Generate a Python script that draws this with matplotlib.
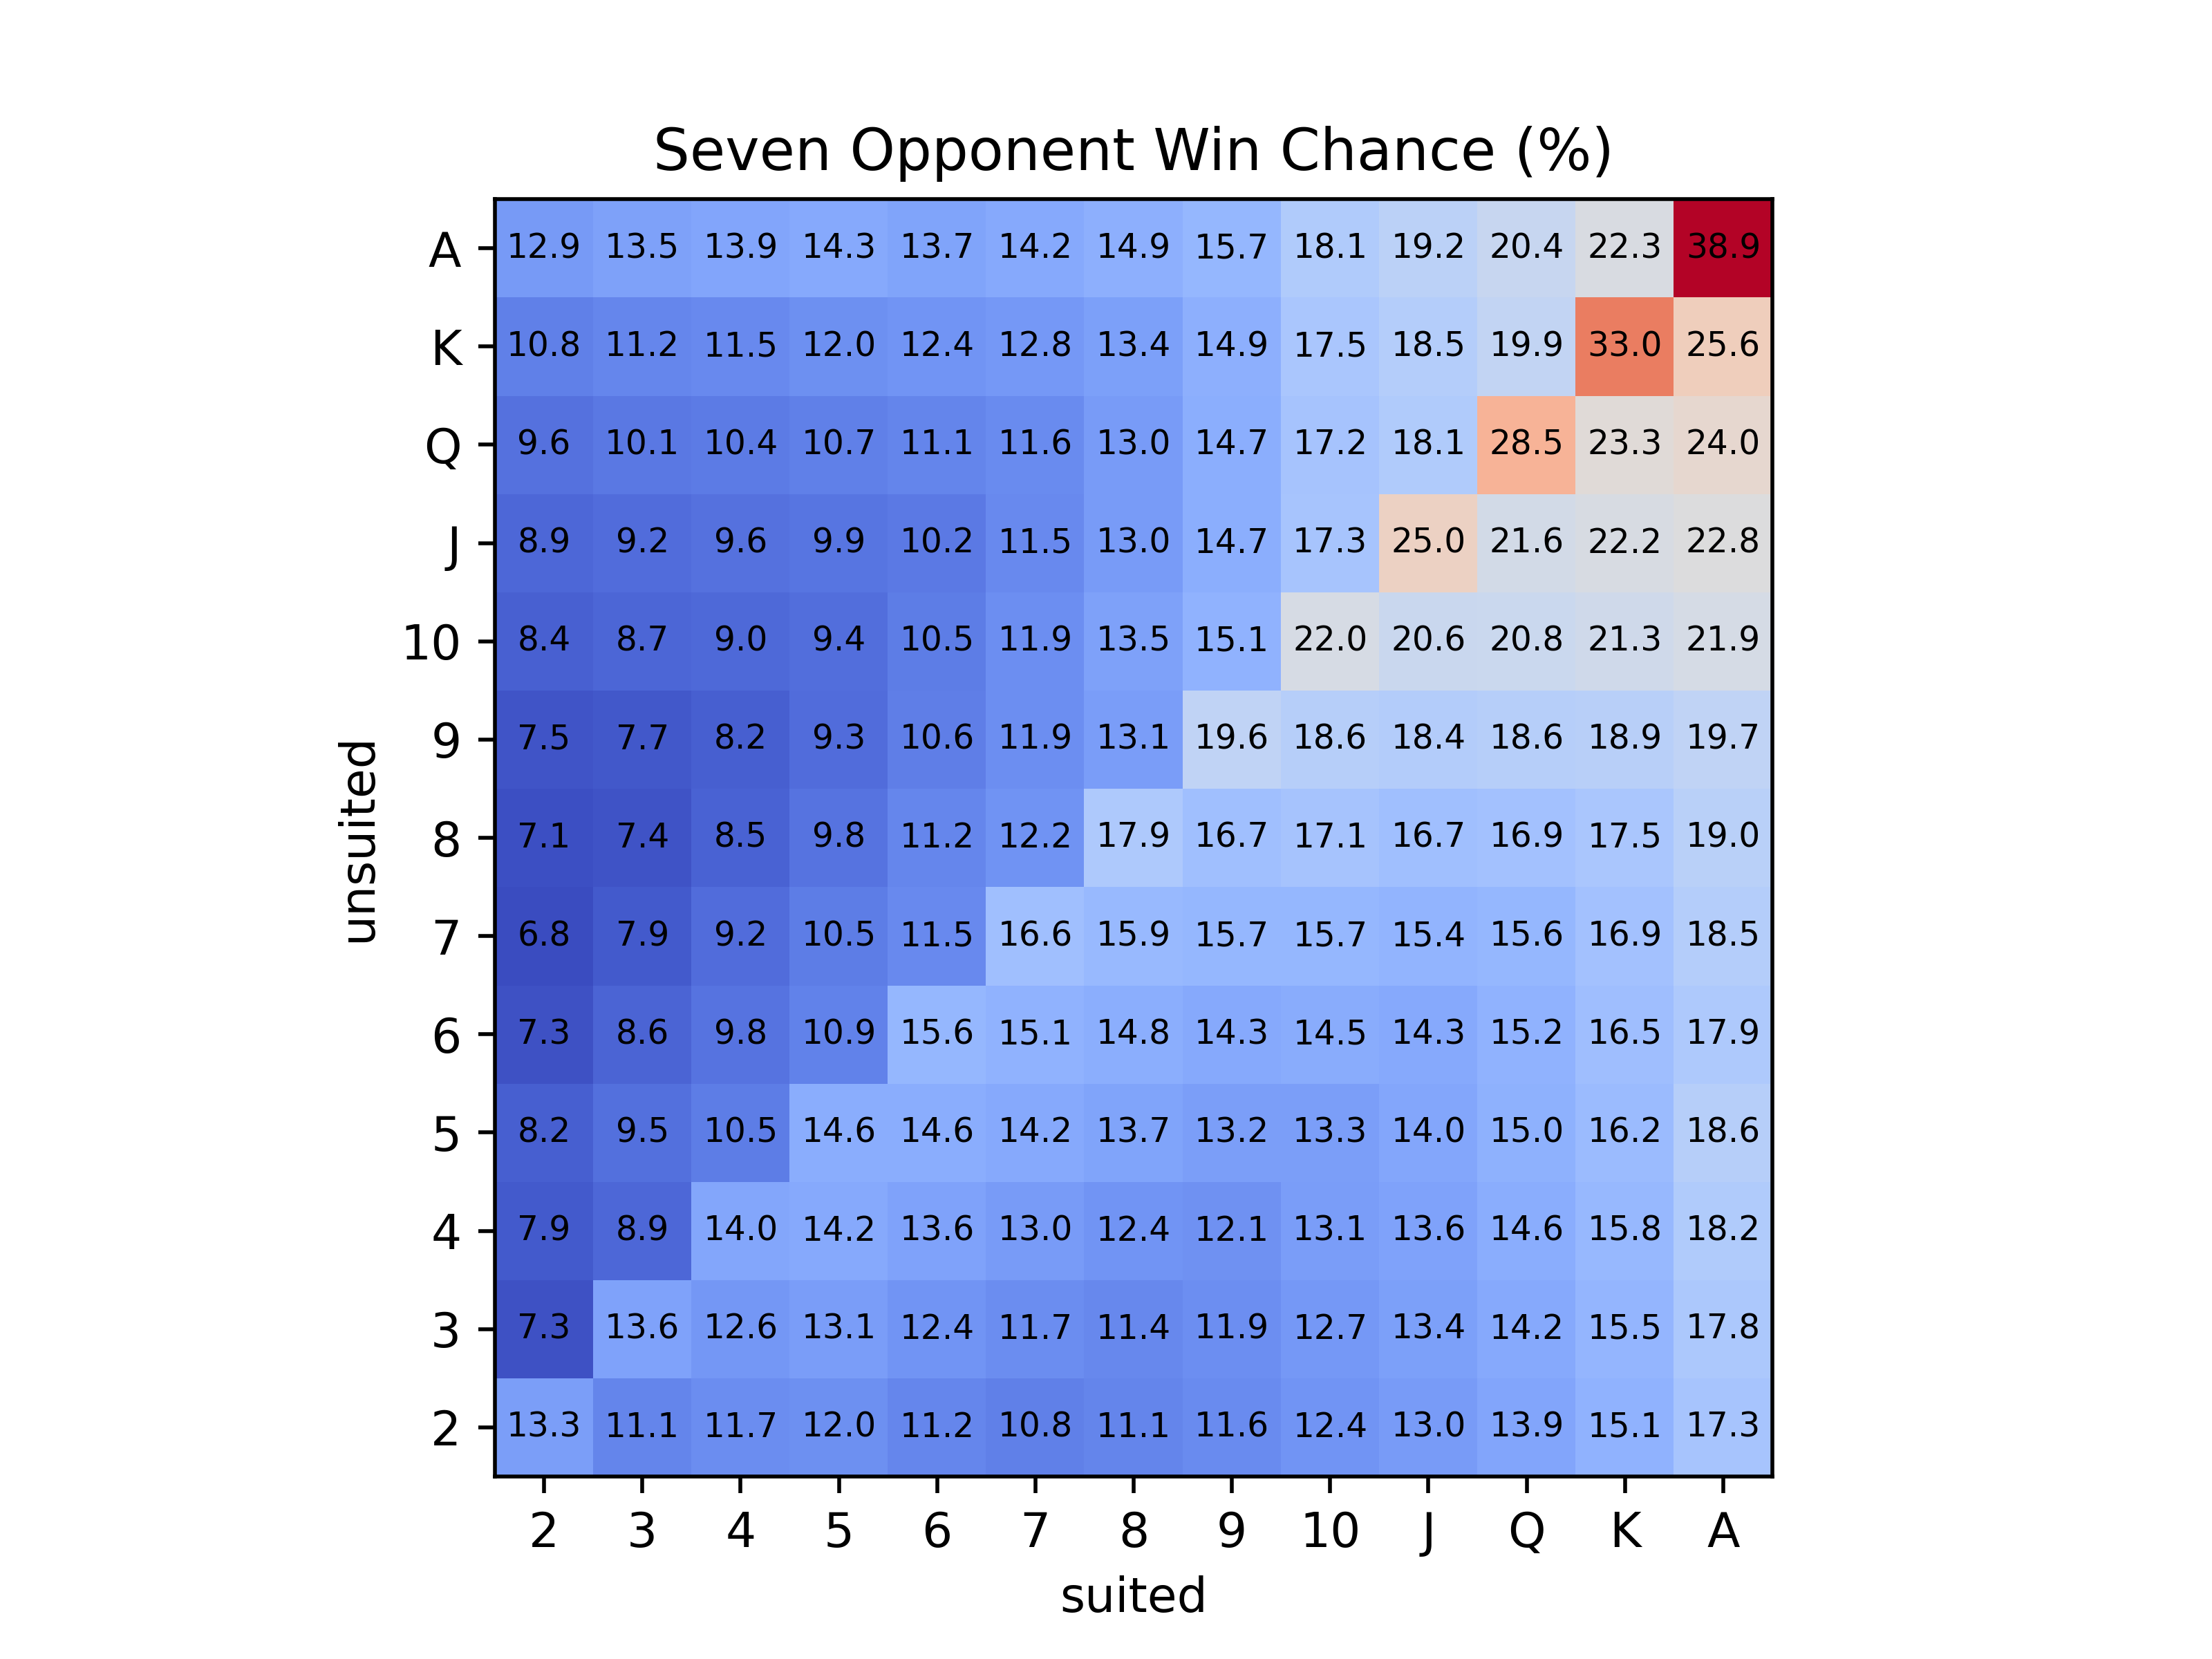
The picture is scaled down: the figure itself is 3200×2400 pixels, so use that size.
import numpy as np
import matplotlib
matplotlib.use('Agg')
import matplotlib.pyplot as plt

ranks = ['2', '3', '4', '5', '6', '7', '8', '9', '10', 'J', 'Q', 'K', 'A']

# rows listed from 2 (bottom) up to A (top), columns 2..A
row_2 = [13.3, 11.1, 11.7, 12.0, 11.2, 10.8, 11.1, 11.6, 12.4, 13.0, 13.9, 15.1, 17.3]
row_3 = [7.3, 13.6, 12.6, 13.1, 12.4, 11.7, 11.4, 11.9, 12.7, 13.4, 14.2, 15.5, 17.8]
row_4 = [7.9, 8.9, 14.0, 14.2, 13.6, 13.0, 12.4, 12.1, 13.1, 13.6, 14.6, 15.8, 18.2]
row_5 = [8.2, 9.5, 10.5, 14.6, 14.6, 14.2, 13.7, 13.2, 13.3, 14.0, 15.0, 16.2, 18.6]
row_6 = [7.3, 8.6, 9.8, 10.9, 15.6, 15.1, 14.8, 14.3, 14.5, 14.3, 15.2, 16.5, 17.9]
row_7 = [6.8, 7.9, 9.2, 10.5, 11.5, 16.6, 15.9, 15.7, 15.7, 15.4, 15.6, 16.9, 18.5]
row_8 = [7.1, 7.4, 8.5, 9.8, 11.2, 12.2, 17.9, 16.7, 17.1, 16.7, 16.9, 17.5, 19.0]
row_9 = [7.5, 7.7, 8.2, 9.3, 10.6, 11.9, 13.1, 19.6, 18.6, 18.4, 18.6, 18.9, 19.7]
row_10 = [8.4, 8.7, 9.0, 9.4, 10.5, 11.9, 13.5, 15.1, 22.0, 20.6, 20.8, 21.3, 21.9]
row_J = [8.9, 9.2, 9.6, 9.9, 10.2, 11.5, 13.0, 14.7, 17.3, 25.0, 21.6, 22.2, 22.8]
row_Q = [9.6, 10.1, 10.4, 10.7, 11.1, 11.6, 13.0, 14.7, 17.2, 18.1, 28.5, 23.3, 24.0]
row_K = [10.8, 11.2, 11.5, 12.0, 12.4, 12.8, 13.4, 14.9, 17.5, 18.5, 19.9, 33.0, 25.6]
row_A = [12.9, 13.5, 13.9, 14.3, 13.7, 14.2, 14.9, 15.7, 18.1, 19.2, 20.4, 22.3, 38.9]

grid = np.array([row_2, row_3, row_4, row_5, row_6, row_7, row_8,
                 row_9, row_10, row_J, row_Q, row_K, row_A])

fig, ax = plt.subplots(figsize=(6.4, 4.8), dpi=500)
ax.imshow(grid, cmap='coolwarm', origin='lower')

for i in range(grid.shape[0]):
    for j in range(grid.shape[1]):
        ax.text(j, i, f'{grid[i, j]:.1f}', ha='center', va='center',
                color='black', fontsize=7)

ax.set_xticks(np.arange(len(ranks)))
ax.set_xticklabels(ranks)
ax.set_yticks(np.arange(len(ranks)))
ax.set_yticklabels(ranks)
ax.set_xlabel('suited')
ax.set_ylabel('unsuited')
ax.set_title('Seven Opponent Win Chance (%)')

plt.savefig('out.png')
